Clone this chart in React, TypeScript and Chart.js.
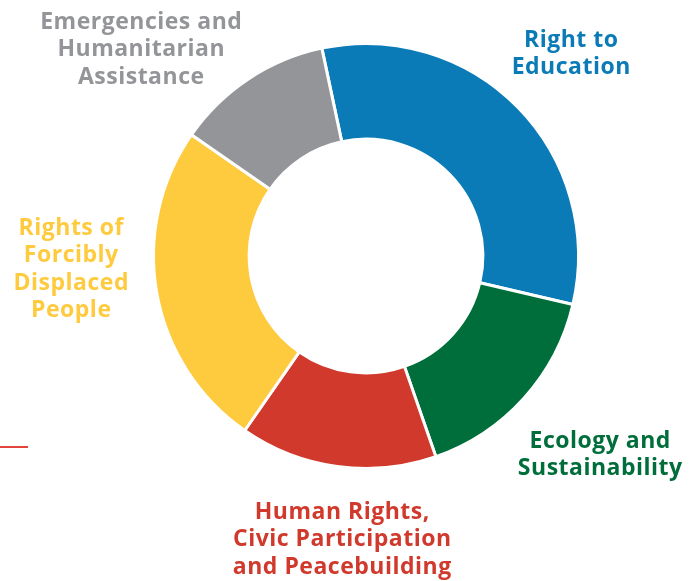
import React, { useEffect, useRef } from "react";
import { Chart, registerables } from "chart.js";

Chart.register(...registerables);

const categories: string[][] = [
  ["Right to", "Education"],
  ["Ecology and", "Sustainability"],
  ["Human Rights,", "Civic Participation", "and Peacebuilding"],
  ["Rights of", "Forcibly", "Displaced", "People"],
  ["Emergencies and", "Humanitarian", "Assistance"],
];
const values: number[] = [32, 16, 15, 25, 12];
const colors: string[] = ["#0A7BB6", "#006E3A", "#D0392B", "#FECA3E", "#939598"];
// label anchor (center x, first line center y) for each category
const labelAnchors: [number, number][] = [
  [571, 40],
  [600, 441],
  [342, 512],
  [71, 228],
  [141, 22],
];

const labelPlugin = {
  id: "outsideLabels",
  afterDraw(chart: any) {
    const ctx = chart.ctx;
    ctx.save();
    ctx.font = "700 23px 'Open Sans', sans-serif";
    (ctx as any).letterSpacing = "0.5px";
    ctx.textAlign = "center";
    ctx.textBaseline = "middle";
    categories.forEach((lines, i) => {
      const [x, y] = labelAnchors[i];
      ctx.fillStyle = colors[i];
      lines.forEach((line, j) => {
        ctx.fillText(line, x + 0.25, y + j * 27.5);
      });
    });
    (ctx as any).letterSpacing = "0px";
    // decorative red rule at left
    ctx.strokeStyle = "#E0443A";
    ctx.lineWidth = 2;
    ctx.beginPath();
    ctx.moveTo(0, 447);
    ctx.lineTo(28, 447);
    ctx.stroke();
    ctx.restore();
  },
};

export default function App() {
  const ref = useRef<HTMLCanvasElement>(null);
  useEffect(() => {
    document.body.style.margin = "0";
    const chart = new Chart(ref.current!, {
      type: "doughnut",
      data: {
        labels: categories.map((l) => l.join(" ")),
        datasets: [
          {
            data: values,
            backgroundColor: colors,
            borderColor: "#ffffff",
            borderWidth: 3,
          },
        ],
      },
      options: {
        responsive: false,
        animation: false,
        rotation: -12,
        cutout: "55%",
        layout: { padding: { left: 152, right: 116, top: 42, bottom: 111 } },
        plugins: { legend: { display: false }, tooltip: { enabled: false } },
      },
      plugins: [labelPlugin],
    });
    return () => chart.destroy();
  }, []);
  return (
    <div style={{ position: "absolute", left: 0, top: 0, width: 696, height: 581, background: "#fff" }}>
      <canvas ref={ref} width={696} height={581} />
    </div>
  );
}
